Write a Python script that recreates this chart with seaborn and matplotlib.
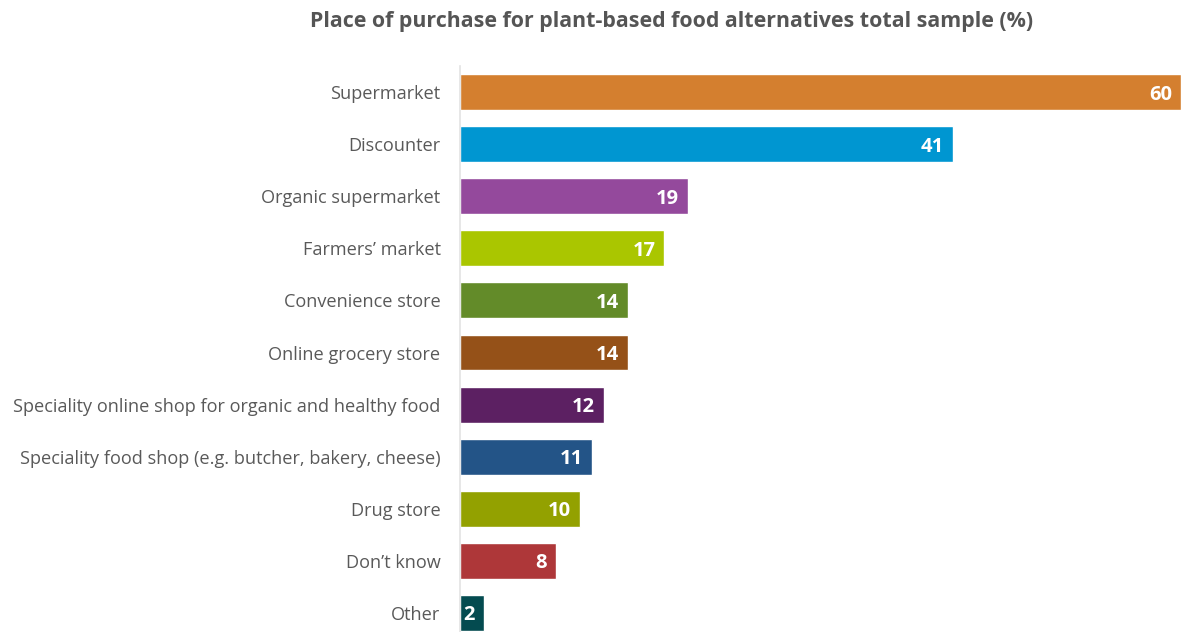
import matplotlib
matplotlib.use("Agg")
import matplotlib.pyplot as plt
import seaborn as sns
import pandas as pd

categories = [
    "Supermarket",
    "Discounter",
    "Organic supermarket",
    "Farmers\u2019 market",
    "Convenience store",
    "Online grocery store",
    "Speciality online shop for organic and healthy food",
    "Speciality food shop (e.g. butcher, bakery, cheese)",
    "Drug store",
    "Don\u2019t know",
    "Other",
]
values = [60, 41, 19, 17, 14, 14, 12, 11, 10, 8, 2]
colors = [
    "#D47F2F", "#0096D1", "#94499C", "#AAC600", "#638B29", "#955118",
    "#5C2062", "#235487", "#93A100", "#AE3739", "#044B50",
]
title = "Place of purchase for plant-based food alternatives total sample (%)"

df = pd.DataFrame({"category": categories, "value": values})

sns.set_theme(style="white")
plt.rcParams["font.family"] = ["Open Sans", "DejaVu Sans"]

W, H = 1181, 632
fig = plt.figure(figsize=(W / 100, H / 100), dpi=100)
ax = fig.add_axes([460 / W, (632 - 639) / H, (W - 460) / W, 573 / H])

sns.barplot(
    data=df, x="value", y="category", hue="category",
    palette=dict(zip(categories, colors)), order=categories,
    hue_order=categories, legend=False, width=0.69,
    saturation=1, ax=ax, orient="h",
)

ax.set_xlim(0, 60)
ax.set_ylim(10.5, -0.5)
ax.set_xlabel("")
ax.set_ylabel("")
ax.set_xticks([])
for side in ["top", "right", "bottom"]:
    ax.spines[side].set_visible(False)
ax.spines["left"].set_color("#E3E3E3")
ax.spines["left"].set_linewidth(1.2)
ax.tick_params(axis="y", length=0, pad=14, labelsize=13.1, labelcolor="#595959")

for container in ax.containers:
    labels = ax.bar_label(container, label_type="edge", padding=-6.5,
                          color="white", fontsize=14.5, fontweight="bold")
    for t in labels:
        t.set_horizontalalignment("right")
        t.set_verticalalignment("center_baseline")

fig.text(672 / W, 1 - 21 / H, title, ha="center", va="center",
         fontsize=15.4, fontweight="bold", color="#555555")

fig.savefig("out.png", dpi=100)
